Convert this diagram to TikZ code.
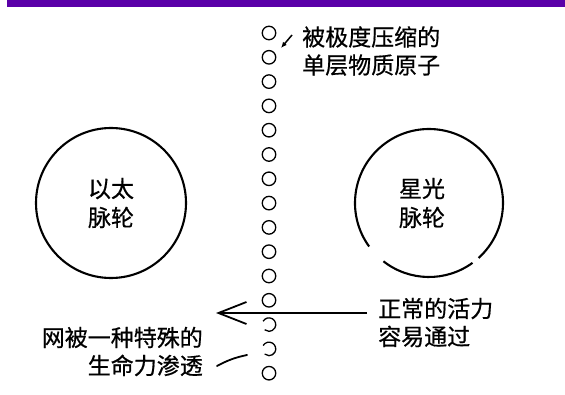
\documentclass[tikz,border=0pt]{standalone}
\usepackage{fontspec}
\usepackage{xcolor}
\newfontfamily\cjk[FakeBold=0.6]{Noto Sans CJK SC}
\usetikzlibrary{arrows.meta, positioning, calc}
\definecolor{barpurple}{HTML}{5A00A8}

\begin{document}
\begin{tikzpicture}[
        x=1pt, y=1pt,
        chakra/.style={
            circle,
            minimum size=150pt,
            inner sep=0pt,
            align=center,
            font=\cjk\fontsize{23}{29}\selectfont
        },
        chakraline/.style={line width=2.1pt},
        atom/.style={
            circle,
            draw,
            line width=1.3pt,
            minimum size=13.5pt,
            inner sep=0pt
        },
        note/.style={
            inner sep=0pt,
            font=\cjk\fontsize{23}{28}\selectfont
        },
        flowarrow/.style={
            line width=2.8pt,
            -{Straight Barb[length=28pt, width=22pt, line width=1.8pt]}
        },
        pointer/.style={
            line width=1.5pt,
            -{Latex[length=6pt, width=5pt]}
        },
        leader/.style={line width=1.8pt, line cap=round}
    ]

    \useasboundingbox (0,0) rectangle (565,394);

    % Purple band along the top edge
    \fill[barpurple] (7,387) rectangle (565,394);

    % Column of atoms (13 and 14 are broken open on the left)
    \foreach \i in {1,...,12,15}
        \node[atom] (atom\i) at (269,{361-(\i-1)*24.3}) {};
    \foreach \i in {13,14}{
        \coordinate (atom\i) at (269,{361-(\i-1)*24.3});
        \draw[line width=1.3pt] ($(atom\i)+(150:6.75)$)
            arc[start angle=150, end angle=-130, radius=6.75];
    }

    % The two chakras
    \node[chakra, draw, chakraline] (ether) at (111,191) {以太\\脉轮};
    \node[chakra, minimum size=148pt] (astral) at (422,191) {星光\\脉轮};
    \coordinate (astralring) at (429,191);
    \draw[chakraline] ($(astralring)+(232:74)$) arc[start angle=232, end angle=306, radius=74];
    \draw[chakraline] ($(astralring)+(312:74)$) arc[start angle=312, end angle=576, radius=74];

    % Labels
    \node[note, anchor=west, align=left] (topnote) at (302,343)
        {被极度压缩的\\单层物质原子};
    \node[note, anchor=west, align=left, inner xsep=11pt] (flow) at (367,71.5)
        {正常的活力\\容易通过};
    \node[note, anchor=east, align=right] (websnote) at (203,42.5)
        {网被一种特殊的\\生命力渗透};

    % Connectors
    \coordinate (toptip) at (281,346);
    \draw[pointer] ([xshift=-10pt, yshift=16pt]topnote.west) -- (toptip);

    \coordinate (arrowtip) at (216,81);
    \draw[flowarrow] (flow.west |- arrowtip) -- (arrowtip);

    \coordinate (leadstart) at (217,28);
    \coordinate (leadend) at (247,39);
    \draw[leader] (leadstart) to[bend left=8] (leadend);

    \end{tikzpicture}
\end{document}
